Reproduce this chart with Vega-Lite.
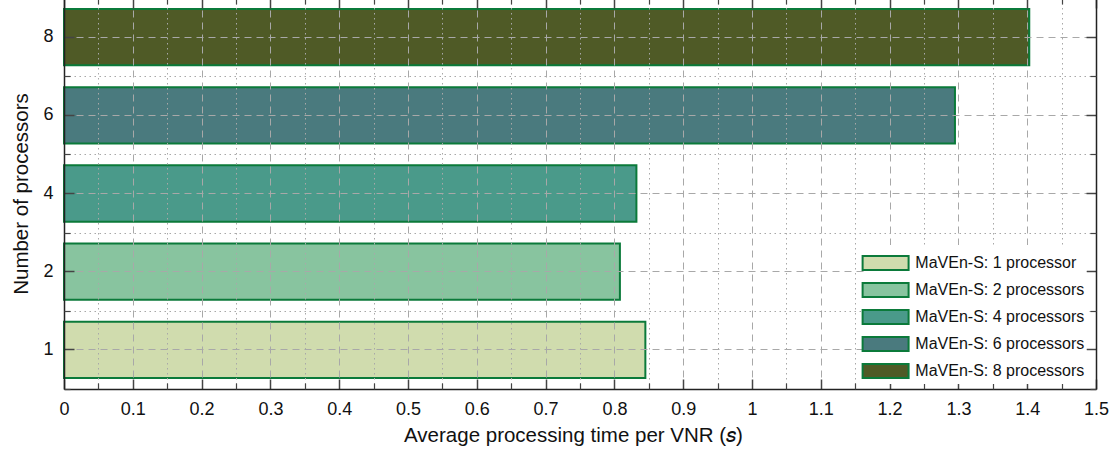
{
  "$schema": "https://vega.github.io/schema/vega-lite/v6.json",
  "width": 1032,
  "height": 391,
  "autosize": {"type": "none"},
  "padding": {"left": 64, "top": -2, "right": 19, "bottom": 63},
  "background": "white",
  "config": {
    "view": {"stroke": null},
    "font": "Liberation Sans",
    "axis": {"labelFont": "Liberation Sans", "titleFont": "Liberation Sans"},
    "legend": {"labelFont": "Liberation Sans"}
  },
  "data": {
    "values": [
      {"n": 1, "time": 0.845, "label": "MaVEn-S: 1 processor"},
      {"n": 2, "time": 0.808, "label": "MaVEn-S: 2 processors"},
      {"n": 4, "time": 0.832, "label": "MaVEn-S: 4 processors"},
      {"n": 6, "time": 1.295, "label": "MaVEn-S: 6 processors"},
      {"n": 8, "time": 1.403, "label": "MaVEn-S: 8 processors"}
    ]
  },
  "layer": [
    {
      "mark": {"type": "bar", "height": {"band": 0.72}, "stroke": "#0b7a3a", "strokeWidth": 2},
      "encoding": {
        "x": {
          "field": "time", "type": "quantitative",
          "scale": {"domain": [0, 1.5], "nice": false},
          "axis": {
            "orient": "bottom",
            "values": [0, 0.1, 0.2, 0.3, 0.4, 0.5, 0.6, 0.7, 0.8, 0.9, 1, 1.1, 1.2, 1.3, 1.4, 1.5],
            "format": "~g",
            "ticks": false, "domain": false,
            "grid": true, "gridDash": [7, 5], "gridColor": "#a8a8a8", "gridWidth": 1,
            "labelFontSize": 18, "labelColor": "#111", "labelPadding": 11,
            "labelFlush": false, "labelOverlap": false,
            "title": "Average processing time per VNR (𝑠)",
            "titleFontSize": 20.5, "titleFontWeight": "normal", "titleColor": "#111", "titlePadding": 7,
            "titleX": 509,
            "zindex": 1
          }
        },
        "y": {
          "field": "n", "type": "ordinal", "sort": "descending",
          "scale": {"paddingInner": 0, "paddingOuter": 0},
          "axis": {
            "orient": "left",
            "ticks": false, "domain": false,
            "grid": true, "gridDash": [7, 5], "gridColor": "#a8a8a8", "gridWidth": 1,
            "tickBand": "center", "bandPosition": 0.5,
            "labelFontSize": 18, "labelColor": "#111", "labelPadding": 11, "labelAngle": 0,
            "title": "Number of processors",
            "titleFontSize": 20.5, "titleFontWeight": "normal", "titleColor": "#111", "titlePadding": 11,
            "zindex": 1
          }
        },
        "fill": {
          "field": "label", "type": "nominal",
          "scale": {
            "domain": ["MaVEn-S: 1 processor", "MaVEn-S: 2 processors", "MaVEn-S: 4 processors", "MaVEn-S: 6 processors", "MaVEn-S: 8 processors"],
            "range": ["#d0dcae", "#88c49f", "#4a9a8a", "#4a7a7e", "#4f5a26"]
          },
          "legend": {
            "orient": "none", "legendX": 803.6, "legendY": 247,
            "title": null,
            "symbolType": "M-1.554,-0.473H1.554V0.473H-1.554Z", "symbolSize": 876,
            "symbolStrokeColor": "#0b7a3a", "symbolStrokeWidth": 2, "symbolOpacity": 1,
            "labelFontSize": 16, "labelColor": "#111", "labelOffset": 13.75, "labelLimit": 300,
            "rowPadding": 0, "fillColor": "white", "padding": 2, "zindex": 2
          }
        }
      }
    },
    {
      "mark": {"type": "bar", "height": {"band": 0.72}, "opacity": 0},
      "encoding": {
        "x": {
          "field": "time", "type": "quantitative",
          "axis": {
            "orient": "bottom",
            "values": [0, 0.1, 0.2, 0.3, 0.4, 0.5, 0.6, 0.7, 0.8, 0.9, 1, 1.1, 1.2, 1.3, 1.4, 1.5],
            "labels": false, "grid": false, "title": null,
            "ticks": true, "tickSize": -10, "tickColor": "#444", "tickWidth": 1.5,
            "domain": true, "domainColor": "#222", "domainWidth": 1.5,
            "zindex": 1
          }
        },
        "y": {
          "field": "n", "type": "ordinal", "sort": "descending",
          "axis": {
            "orient": "left",
            "labels": false, "grid": false, "title": null,
            "tickBand": "center", "bandPosition": 0.5,
            "ticks": true, "tickSize": -10, "tickColor": "#444", "tickWidth": 1.5,
            "domain": true, "domainColor": "#222", "domainWidth": 1.5,
            "zindex": 1
          }
        }
      }
    },
    {
      "mark": {"type": "bar", "height": {"band": 0.72}, "opacity": 0},
      "encoding": {
        "x": {
          "field": "time", "type": "quantitative",
          "axis": {
            "orient": "bottom",
            "values": [0.05, 0.15, 0.25, 0.35, 0.45, 0.55, 0.65, 0.75, 0.85, 0.95, 1.05, 1.15, 1.25, 1.35, 1.45],
            "labels": false, "title": null, "domain": false,
            "grid": true, "gridDash": [1.5, 3.5], "gridColor": "#a8a8a8", "gridWidth": 1,
            "ticks": true, "tickSize": -6, "tickColor": "#444", "tickWidth": 1.2,
            "zindex": 1
          }
        },
        "y": {
          "field": "n", "type": "ordinal", "sort": "descending",
          "axis": {
            "orient": "left",
            "labels": false, "title": null, "domain": false,
            "tickBand": "extent",
            "grid": true, "gridDash": [1.5, 3.5], "gridColor": "#a8a8a8", "gridWidth": 1,
            "ticks": true, "tickSize": -6, "tickColor": "#444", "tickWidth": 1.2,
            "zindex": 1
          }
        }
      }
    },
    {
      "mark": {"type": "bar", "height": {"band": 0.72}, "opacity": 0},
      "encoding": {
        "x": {
          "field": "time", "type": "quantitative",
          "axis": {
            "orient": "top",
            "values": [0, 0.1, 0.2, 0.3, 0.4, 0.5, 0.6, 0.7, 0.8, 0.9, 1, 1.1, 1.2, 1.3, 1.4, 1.5],
            "labels": false, "grid": false, "title": null,
            "ticks": true, "tickSize": -10, "tickColor": "#444", "tickWidth": 1.5,
            "domain": true, "domainColor": "#222", "domainWidth": 1.5,
            "zindex": 1
          }
        },
        "y": {
          "field": "n", "type": "ordinal", "sort": "descending",
          "axis": {
            "orient": "right",
            "labels": false, "grid": false, "title": null,
            "tickBand": "center", "bandPosition": 0.5,
            "ticks": true, "tickSize": -10, "tickColor": "#444", "tickWidth": 1.5,
            "domain": true, "domainColor": "#222", "domainWidth": 1.5,
            "zindex": 1
          }
        }
      }
    },
    {
      "mark": {"type": "bar", "height": {"band": 0.72}, "opacity": 0},
      "encoding": {
        "x": {
          "field": "time", "type": "quantitative",
          "axis": {
            "orient": "top",
            "values": [0.05, 0.15, 0.25, 0.35, 0.45, 0.55, 0.65, 0.75, 0.85, 0.95, 1.05, 1.15, 1.25, 1.35, 1.45],
            "labels": false, "grid": false, "title": null, "domain": false,
            "ticks": true, "tickSize": -6, "tickColor": "#444", "tickWidth": 1.2,
            "zindex": 1
          }
        },
        "y": {
          "field": "n", "type": "ordinal", "sort": "descending",
          "axis": {
            "orient": "right",
            "labels": false, "grid": false, "title": null, "domain": false,
            "tickBand": "extent",
            "ticks": true, "tickSize": -6, "tickColor": "#444", "tickWidth": 1.2,
            "zindex": 1
          }
        }
      }
    }
  ],
  "resolve": {"axis": {"x": "independent", "y": "independent"}}
}
